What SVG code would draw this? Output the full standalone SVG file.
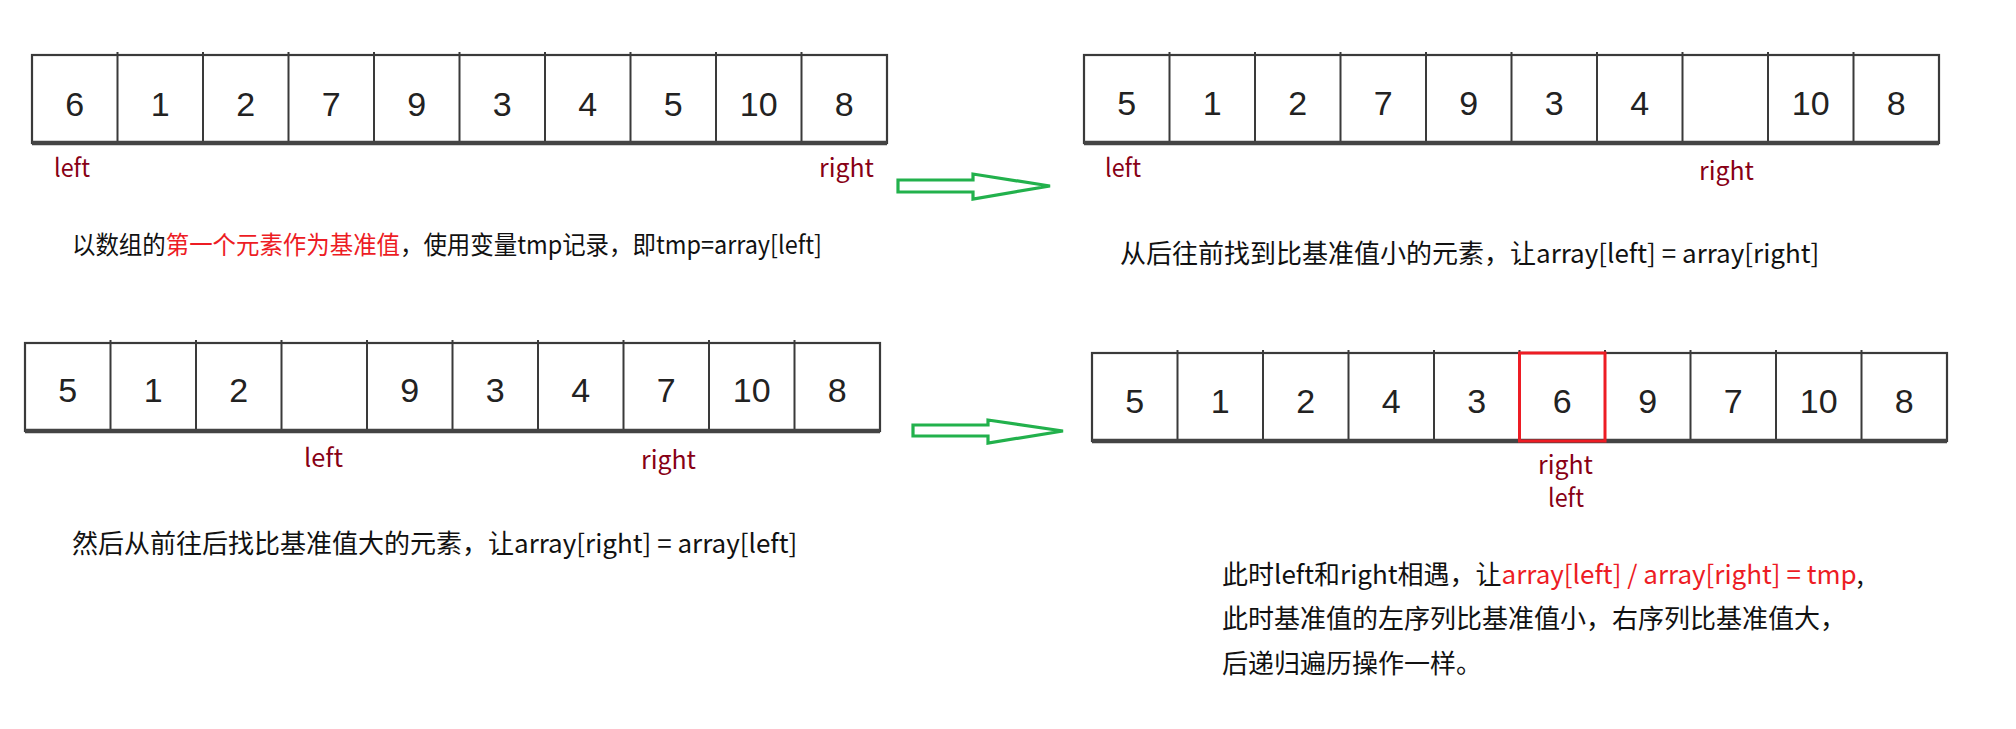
<svg xmlns="http://www.w3.org/2000/svg" xmlns:xlink="http://www.w3.org/1999/xlink" width="2016" height="729" viewBox="0 0 2016 729">
<style>
.box{fill:#fff;stroke:#3a3a3a;stroke-width:2.2}
.div{fill:none;stroke:#3a3a3a;stroke-width:2}
.base{stroke:#444;stroke-width:4.5}
.dg{font-family:"Liberation Sans",Arial,sans-serif;font-size:34px;fill:#222;text-anchor:middle}
.lbl{font-family:"Noto Sans CJK SC","Noto Sans",sans-serif;font-size:25px;fill:#880015}
.cap{font-family:"Noto Sans CJK SC","Noto Sans",sans-serif;font-size:26px;fill:#111}
.red{fill:#ED1C24}
.arrow{fill:#fff;stroke:#22B14C;stroke-width:3.2;stroke-linejoin:miter}
.hl{fill:none;stroke:#ED1C24;stroke-width:3}
</style>
<defs>
<g id="grid">
<rect x="0" y="0" width="855" height="88" class="box"/>
<path class="div" d="M85.5,-3V88M171,-3V88M256.5,-3V88M342,-3V88M427.5,-3V88M513,-3V88M598.5,-3V88M684,-3V88M769.5,-3V88"/>
<line x1="0" y1="88" x2="855" y2="88" class="base"/>
</g>
</defs>
<rect width="2016" height="729" fill="#fff"/>

<g id="array1" transform="translate(32,55)">
<use xlink:href="#grid"/>
<text class="dg" x="42.7" y="61">6</text>
<text class="dg" x="128.2" y="61">1</text>
<text class="dg" x="213.7" y="61">2</text>
<text class="dg" x="299.2" y="61">7</text>
<text class="dg" x="384.7" y="61">9</text>
<text class="dg" x="470.2" y="61">3</text>
<text class="dg" x="555.7" y="61">4</text>
<text class="dg" x="641.2" y="61">5</text>
<text class="dg" x="726.7" y="61">10</text>
<text class="dg" x="812.2" y="61">8</text>
</g>
<g id="labels1">
<text class="lbl" x="54" y="177" textLength="36" lengthAdjust="spacingAndGlyphs">left</text>
<text class="lbl" x="819" y="177" textLength="55" lengthAdjust="spacingAndGlyphs">right</text>
</g>
<g id="caption1">
<text class="cap" x="72" y="254" style="font-size:25px" textLength="750" lengthAdjust="spacingAndGlyphs">以数组的<tspan class="red">第一个元素作为基准值</tspan>，使用变量tmp记录，即tmp=array[left]</text>
</g>

<g id="array2" transform="translate(1084,55)">
<use xlink:href="#grid"/>
<text class="dg" x="42.7" y="60">5</text>
<text class="dg" x="128.2" y="60">1</text>
<text class="dg" x="213.7" y="60">2</text>
<text class="dg" x="299.2" y="60">7</text>
<text class="dg" x="384.7" y="60">9</text>
<text class="dg" x="470.2" y="60">3</text>
<text class="dg" x="555.7" y="60">4</text>
<text class="dg" x="726.7" y="60">10</text>
<text class="dg" x="812.2" y="60">8</text>
</g>
<g id="labels2">
<text class="lbl" x="1105" y="177" textLength="36" lengthAdjust="spacingAndGlyphs">left</text>
<text class="lbl" x="1699" y="180" textLength="55" lengthAdjust="spacingAndGlyphs">right</text>
</g>
<g id="caption2">
<text class="cap" x="1120" y="263">从后往前找到比基准值小的元素，让array[left] = array[right]</text>
</g>

<g id="array3" transform="translate(25,343)">
<use xlink:href="#grid"/>
<text class="dg" x="42.7" y="59">5</text>
<text class="dg" x="128.2" y="59">1</text>
<text class="dg" x="213.7" y="59">2</text>
<text class="dg" x="384.7" y="59">9</text>
<text class="dg" x="470.2" y="59">3</text>
<text class="dg" x="555.7" y="59">4</text>
<text class="dg" x="641.2" y="59">7</text>
<text class="dg" x="726.7" y="59">10</text>
<text class="dg" x="812.2" y="59">8</text>
</g>
<g id="labels3">
<text class="lbl" x="304" y="467" textLength="39" lengthAdjust="spacingAndGlyphs">left</text>
<text class="lbl" x="641" y="469" textLength="55" lengthAdjust="spacingAndGlyphs">right</text>
</g>
<g id="caption3">
<text class="cap" x="72" y="553">然后从前往后找比基准值大的元素，让array[right] = array[left]</text>
</g>

<g id="array4" transform="translate(1092,353)">
<use xlink:href="#grid"/>
<rect class="hl" x="427.5" y="0" width="85.5" height="88"/>
<text class="dg" x="42.7" y="60">5</text>
<text class="dg" x="128.2" y="60">1</text>
<text class="dg" x="213.7" y="60">2</text>
<text class="dg" x="299.2" y="60">4</text>
<text class="dg" x="384.7" y="60">3</text>
<text class="dg" x="470.2" y="60">6</text>
<text class="dg" x="555.7" y="60">9</text>
<text class="dg" x="641.2" y="60">7</text>
<text class="dg" x="726.7" y="60">10</text>
<text class="dg" x="812.2" y="60">8</text>
</g>
<g id="labels4">
<text class="lbl" x="1538" y="474" textLength="55" lengthAdjust="spacingAndGlyphs">right</text>
<text class="lbl" x="1548" y="507" textLength="36" lengthAdjust="spacingAndGlyphs">left</text>
</g>
<g id="caption4">
<text class="cap" x="1222" y="584">此时left和right相遇，让<tspan class="red">array[left] / array[right] = tmp</tspan>,</text>
<text class="cap" x="1222" y="628">此时基准值的左序列比基准值小，右序列比基准值大，</text>
<text class="cap" x="1222" y="673">后递归遍历操作一样。</text>
</g>

<g id="connectors">
<polygon class="arrow" points="898,180 973,180 973,174 1050,186 973,199 973,192 898,192"/>
<polygon class="arrow" points="913,425 988,425 988,420 1063,431 988,443 988,436 913,436"/>
</g>
</svg>
